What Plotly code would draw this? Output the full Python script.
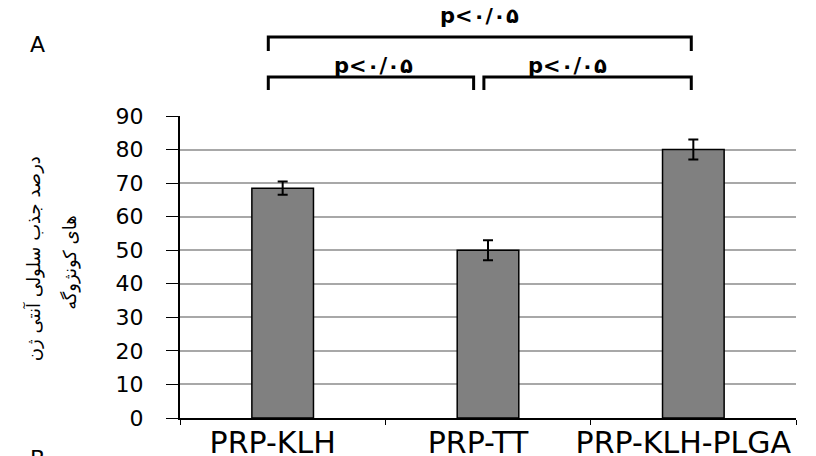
import plotly.graph_objects as go

# ---- data ----
categories = ["PRP-KLH", "PRP-TT", "PRP-KLH-PLGA"]
values = [68.5, 50, 80]
errors = [2, 3, 3]
y_ticks = [0, 10, 20, 30, 40, 50, 60, 70, 80, 90]
y_title_lines = ["درصد جذب سلولی آنتی ژن", "های کونژوگه"]
p_label = "p<۰/۰۵"
# comparisons: (from category index, to category index)
comparisons = [(0, 2), (0, 1), (1, 2)]

# ---- styling / layout helpers (positions, not data) ----
bracket_style = [
    # x0 offset, x1 offset, y_top, y_low, label_y, label_dx
    (-0.07, -0.01, 1.262, 1.215, 1.33, 0.0),
    (-0.07, -0.07, 1.129, 1.086, 1.165, 0.01),
    (-0.02, -0.01, 1.129, 1.086, 1.165, -0.1),
]
title_pos = [(-0.2386, 0.526), (-0.1786, 0.517)]

fig = go.Figure()
fig.add_trace(go.Bar(
    x=categories,
    y=values,
    marker=dict(color="#808080", line=dict(color="black", width=1.5)),
    error_y=dict(type="data", array=errors, visible=True,
                 color="black", thickness=2, width=5),
    width=0.3,
))

shapes = []
annotations = []
for (a, b), (dx0, dx1, yt, yl, ly, ldx) in zip(comparisons, bracket_style):
    x0 = a + dx0
    x1 = b + dx1
    shapes.append(dict(
        type="path", xref="x", yref="paper",
        path=f"M {x0},{yl} L {x0},{yt} L {x1},{yt} L {x1},{yl}",
        line=dict(color="black", width=3),
    ))
    annotations.append(dict(
        xref="x", yref="paper", x=(x0 + x1) / 2 + ldx, y=ly,
        text=f"<b>{p_label}</b>", showarrow=False,
        font=dict(family="DejaVu Sans", size=21, color="black"),
        xanchor="center", yanchor="middle",
    ))

for line, (px, py) in zip(y_title_lines, title_pos):
    annotations.append(dict(
        xref="paper", yref="paper", x=px, y=py,
        text=line, textangle=-90, showarrow=False,
        font=dict(family="DejaVu Sans", size=18, color="black"),
        xanchor="center", yanchor="middle",
    ))
annotations.append(dict(
    xref="paper", yref="paper", x=-0.232, y=1.237,
    text="A", showarrow=False,
    font=dict(family="DejaVu Sans", size=22, color="black"),
    xanchor="center", yanchor="middle",
))
annotations.append(dict(
    xref="paper", yref="paper", x=-0.232, y=-0.135,
    text="B", showarrow=False,
    font=dict(family="DejaVu Sans", size=22, color="black"),
    xanchor="center", yanchor="middle",
))

fig.update_layout(
    width=816, height=456,
    margin=dict(l=172, r=28, t=108, b=46),
    paper_bgcolor="white", plot_bgcolor="white",
    showlegend=False,
    shapes=shapes,
    annotations=annotations,
    xaxis=dict(
        type="category",
        range=[-0.5, 2.5],
        automargin=False,
        tickangle=0,
        ticklabelshift=-10,
        ticklabelstandoff=-3,
        showline=True, linecolor="black", linewidth=1.5,
        ticks="outside", tickson="boundaries", ticklen=5,
        tickcolor="black", tickwidth=1,
        tickfont=dict(family="DejaVu Sans", size=30, color="black"),
        showgrid=False,
    ),
    yaxis=dict(
        range=[0, 90],
        tickvals=y_ticks,
        automargin=False,
        showline=True, linecolor="black", linewidth=2,
        ticks="outside", ticklen=12, tickcolor="black", tickwidth=1,
        ticklabelstandoff=18,
        tickfont=dict(family="DejaVu Sans", size=22, color="black"),
        showgrid=True, gridcolor="#a8a8a8", gridwidth=1.5,
        zeroline=False,
    ),
)

fig.write_html("out.html")
